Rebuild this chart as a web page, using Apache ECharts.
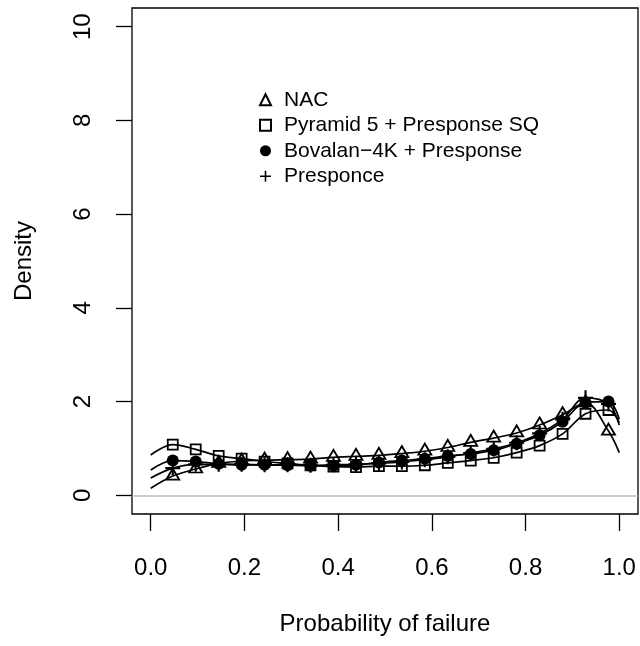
<!DOCTYPE html>
<html>
<head>
<meta charset="utf-8">
<script src="https://cdn.jsdelivr.net/npm/echarts@6/dist/echarts.min.js"></script>
<style>
html,body{margin:0;padding:0;background:#fff;}
#chart{width:640px;height:646px;}
</style>
</head>
<body>
<div id="chart"></div>
<script>
// Marker positions (probability of failure)
const xMarks = [0.047,0.096,0.145,0.194,0.243,0.292,0.341,0.390,0.438,0.487,0.536,0.585,0.634,0.683,0.732,0.781,0.830,0.879,0.928,0.977];

// Density values at the marker positions
const nacVals = [0.41,0.56,0.68,0.73,0.75,0.76,0.77,0.81,0.83,0.85,0.89,0.94,1.02,1.13,1.22,1.33,1.50,1.72,1.97,1.37];
const pyrVals = [1.08,0.98,0.84,0.78,0.72,0.68,0.64,0.61,0.60,0.62,0.62,0.64,0.69,0.74,0.80,0.91,1.06,1.31,1.74,1.82];
const bovVals = [0.74,0.72,0.67,0.65,0.65,0.64,0.63,0.63,0.65,0.70,0.74,0.78,0.84,0.88,0.96,1.10,1.28,1.57,1.98,2.00];
const preVals = [0.58,0.66,0.66,0.66,0.65,0.65,0.64,0.65,0.66,0.68,0.71,0.76,0.82,0.90,0.99,1.12,1.32,1.62,2.08,1.95];

// Density values of each curve at its ends (x = 0 and x = 1)
const curveEndX = [0, 1];
const nacEnds = [0.15, 0.91];
const pyrEnds = [0.86, 1.55];
const bovEnds = [0.54, 1.62];
const preEnds = [0.37, 1.50];

// Axis ticks
const xTicks = [0, 0.2, 0.4, 0.6, 0.8, 1.0];
const xTickLabels = ['0.0','0.2','0.4','0.6','0.8','1.0'];
const yTicks = [0, 2, 4, 6, 8, 10];
const yTickLabels = ['0','2','4','6','8','10'];

const names = ['NAC', 'Pyramid 5 + Presponse SQ', 'Bovalan\u22124K + Presponse', 'Presponce'];

function pts(vals) { return xMarks.map((x, i) => [x, vals[i]]); }
function curve(vals, ends) {
  return [[curveEndX[0], ends[0]]].concat(pts(vals), [[curveEndX[1], ends[1]]]);
}

const FONT = 'Liberation Sans, Arial, Helvetica, sans-serif';
const plusPath = 'path://M6,0h2v6h6v2h-6v6h-2v-6h-6v-2h6z';
const hollow = {color: 'rgba(0,0,0,0)', borderColor: '#000', borderWidth: 1.8, opacity: 1};
const solid = {color: '#000', opacity: 1};

function lineSeries(vals, ends) {
  return {
    type: 'line', data: curve(vals, ends), smooth: 0.35, symbol: 'none',
    lineStyle: {color: '#000', width: 1.7}, silent: true, z: 2, legendHoverLink: false
  };
}

const series = [
  Object.assign(lineSeries(nacVals, nacEnds), {
    markLine: {
      silent: true, symbol: 'none', label: {show: false},
      lineStyle: {color: '#bebebe', width: 1.5, type: 'solid'},
      data: [{yAxis: 0}], z: 1
    }
  }),
  lineSeries(pyrVals, pyrEnds),
  lineSeries(bovVals, bovEnds),
  lineSeries(preVals, preEnds),
  {name: names[0], type: 'scatter', data: pts(nacVals), symbol: 'triangle', symbolSize: [13, 11],
   symbolOffset: [0, -2], itemStyle: hollow, z: 3},
  {name: names[1], type: 'scatter', data: pts(pyrVals), symbol: 'rect', symbolSize: 10,
   itemStyle: hollow, z: 3},
  {name: names[2], type: 'scatter', data: pts(bovVals), symbol: 'circle', symbolSize: 12,
   itemStyle: solid, z: 3},
  {name: names[3], type: 'scatter', data: pts(preVals), symbol: plusPath, symbolSize: 15,
   itemStyle: solid, z: 3}
];

const chart = echarts.init(document.getElementById('chart'), null, {renderer: 'canvas'});
chart.setOption({
  animation: false,
  backgroundColor: '#fff',
  textStyle: {fontFamily: FONT},
  grid: {left: 132, right: 2, top: 8, bottom: 132, show: true, borderColor: '#000', borderWidth: 1.3, backgroundColor: 'transparent'},
  xAxis: {
    type: 'value', min: -0.04, max: 1.04,
    name: 'Probability of failure', nameLocation: 'middle', nameGap: 98,
    nameTextStyle: {fontSize: 24, color: '#000', fontFamily: FONT},
    axisLine: {show: false, onZero: false},
    axisTick: {show: true, inside: false, length: 17, customValues: xTicks, lineStyle: {color: '#000', width: 1.3}},
    axisLabel: {show: true, margin: 42, fontSize: 24, color: '#000', fontFamily: FONT,
      customValues: xTicks, formatter: v => xTickLabels[xTicks.indexOf(v)] ?? ''},
    splitLine: {show: false}
  },
  yAxis: {
    type: 'value', min: -0.4, max: 10.4,
    name: 'Density', nameLocation: 'middle', nameGap: 96, nameRotate: 90,
    nameTextStyle: {fontSize: 24, color: '#000', fontFamily: FONT},
    axisLine: {show: false, onZero: false},
    axisTick: {show: true, inside: false, length: 16, customValues: yTicks, lineStyle: {color: '#000', width: 1.3}},
    axisLabel: {show: true, margin: 37, rotate: 90, fontSize: 24, color: '#000', fontFamily: FONT,
      customValues: yTicks, formatter: v => yTickLabels[yTicks.indexOf(v)] ?? ''},
    splitLine: {show: false}
  },
  legend: {
    orient: 'vertical', left: 254, top: 82,
    itemWidth: 11, itemHeight: 11, itemGap: 0,
    selectedMode: false,
    textStyle: {fontSize: 21, color: '#000', fontFamily: FONT, lineHeight: 25.5, padding: [0, 0, 0, 8]},
    data: [
      {name: names[0], icon: 'triangle'},
      {name: names[1], icon: 'rect'},
      {name: names[2], icon: 'circle'},
      {name: names[3], icon: plusPath}
    ]
  },
  series: series
});
</script>
</body>
</html>
